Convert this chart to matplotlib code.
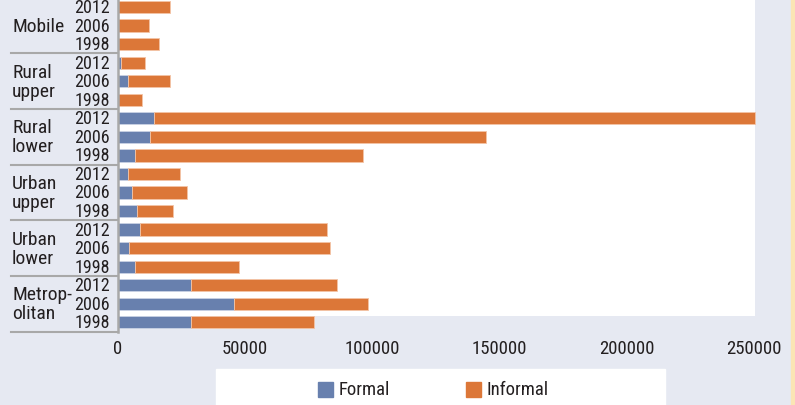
import matplotlib
matplotlib.use("Agg")
import matplotlib.pyplot as plt
from matplotlib.patches import Rectangle
from matplotlib import font_manager as fm

groups = ["Mobile", "Rural\nupper", "Rural\nlower", "Urban\nupper", "Urban\nlower", "Metrop-\nolitan"]
years = ["2012", "2006", "1998"]
formal = [0, 0, 0,
          1200, 3900, 0,
          14300, 12700, 6550,
          3900, 5500, 7600,
          8650, 4200, 6550,
          28800, 45600, 28800]
informal = [20500, 12300, 16000,
            9400, 16500, 9400,
            236000, 131800, 89650,
            20600, 21600, 14000,
            73350, 79250, 40850,
            57400, 52800, 48200]
xticks = [0, 50000, 100000, 150000, 200000, 250000]
series_names = ["Formal", "Informal"]

# pick a narrow font if one is installed
cands = []
for f in fm.fontManager.ttflist:
    nm = f.name.lower()
    st = str(f.stretch).lower()
    fname = f.fname.lower()
    narrow = ('narrow' in nm or 'condensed' in nm or 'condensed' in st or 'narrow' in fname
              or 'condensed' in fname)
    if narrow and f.weight in (400, 'normal', 'regular') and f.style == 'normal':
        cands.append(f)
pref = ['liberation sans narrow', 'roboto condensed', 'open sans condensed', 'noto sans',
        'dejavu sans']
chosen = None
for p in pref:
    for f in cands:
        if f.name.lower().startswith(p) and 'semi' not in f.fname.lower() and 'extra' not in f.fname.lower():
            chosen = f
            break
    if chosen:
        break
if chosen is None and cands:
    chosen = cands[0]
if chosen is not None:
    FP = dict(fontproperties=fm.FontProperties(fname=chosen.fname))
    scale = 1.0
else:
    FP = {}
    scale = 0.8

BLUE = '#6880ae'
ORANGE = '#dc7738'
BG = '#e6e9f2'
TXT = '#231f20'
W, H = 795, 406

def txtkw(size):
    if FP:
        p = FP['fontproperties'].copy()
        p.set_size(size)
        return dict(fontproperties=p)
    return dict(fontsize=size * scale)

fig = plt.figure(figsize=(W / 100, H / 100), dpi=100, facecolor=BG)
fig.patches.append(Rectangle((791 / W, 0), 4 / W, 1, transform=fig.transFigure,
                             color='#fbe5b4', zorder=0))

ax_left, ax_right, ax_top, ax_bot = 118, 755, 0, 316.7
ax = fig.add_axes([ax_left / W, (H - ax_bot) / H, (ax_right - ax_left) / W, (ax_bot - ax_top) / H])
ax.set_facecolor('white')

n = len(formal)
ys = list(range(n))
ax.barh(ys, formal, height=0.66, color=BLUE, edgecolor='#c9d2e4', linewidth=0.6, clip_on=False, zorder=3)
ax.barh(ys, informal, left=formal, height=0.66, color=ORANGE, edgecolor='#f3c4a6', linewidth=0.6,
        clip_on=False, zorder=3)

row_px = 18.55
y_top = -(8 - ax_top) / row_px
y_bot = (ax_bot - 8) / row_px
ax.set_ylim(y_bot, y_top)
xmax = 250000 * (ax_right - ax_left) / (754 - ax_left)
ax.set_xlim(0, xmax)

for s in ax.spines.values():
    s.set_visible(False)
ax.set_yticks([])
ax.set_xticks(xticks)
ax.set_xticklabels([str(t) for t in xticks], color=TXT, **txtkw(13.5))
ax.tick_params(axis='x', length=0, pad=17)

ytr = ax.get_yaxis_transform()
axw = ax_right - ax_left
ax.plot([0, 0], [y_top, 17.5], transform=ytr, color='#a8a8a8', lw=1.8, clip_on=False, zorder=4)
for b in [2.5, 5.5, 8.5, 11.5, 14.5, 17.5]:
    ax.plot([(11 - ax_left) / axw, 0], [b, b], transform=ytr, color='#a8a8a8', lw=1.5, clip_on=False)

for i in range(n):
    ax.text((110 - ax_left) / axw, i, years[i % 3], transform=ytr, ha='right', va='center',
            color=TXT, **txtkw(13))
for g, name in enumerate(groups):
    ax.text((12 - ax_left) / axw, 3 * g + 1, name, transform=ytr, ha='left', va='center',
            color=TXT, linespacing=1.05, **txtkw(14))

fig.patches.append(Rectangle((216 / W, 0), (665 - 216) / W, (H - 370) / H, transform=fig.transFigure,
                             color='white', zorder=1))
for (x0, tx), col, name in zip([(318, 339), (466, 487)], [BLUE, ORANGE], series_names):
    fig.patches.append(Rectangle((x0 / W, (H - 398) / H), 15 / W, 15 / H, transform=fig.transFigure,
                                 color=col, zorder=2))
    fig.text(tx / W, (H - 390) / H, name, ha='left', va='center', color=TXT, **txtkw(13.5))

fig.savefig('out.png', dpi=100, facecolor=BG)
